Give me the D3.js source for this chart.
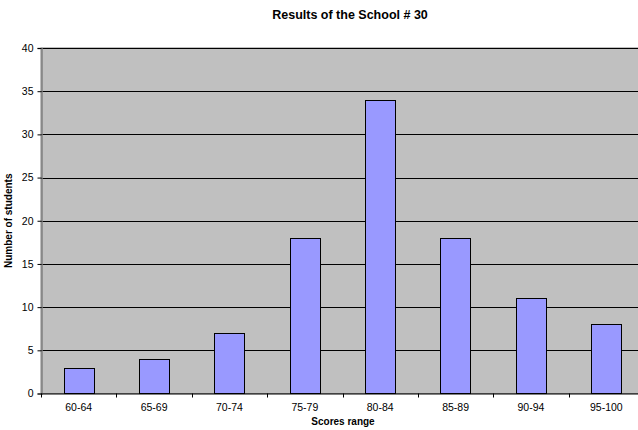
<!DOCTYPE html>
<html>
<head>
<meta charset="utf-8">
<script src="https://cdn.jsdelivr.net/npm/d3@7"></script>
<style>
  body { margin: 0; background: #fff; }
  text { font-family: Arial, "Liberation Sans", sans-serif; }
</style>
</head>
<body>
<div id="chart"></div>
<script>
const categories = ["60-64", "65-69", "70-74", "75-79", "80-84", "85-89", "90-94", "95-100"];
const students = [3, 4, 7, 18, 34, 18, 11, 8];
const yTicks = [0, 5, 10, 15, 20, 25, 30, 35, 40];

const width = 638, height = 430;
// plot area runs a little past the right edge, like the original screenshot
const margin = {left: 41, top: 48, bottom: 393.5};
const plotRight = 644;

const svg = d3.select("#chart").append("svg")
  .attr("width", width)
  .attr("height", height);

const xscale = d3.scaleBand()
  .domain(categories)
  .range([margin.left, plotRight])
  .paddingInner(0.6)
  .paddingOuter(0.3);

const yscale = d3.scaleLinear()
  .domain([0, 40])
  .range([margin.bottom, margin.top]);

// plot background
svg.append("rect")
  .attr("x", margin.left)
  .attr("y", margin.top)
  .attr("width", plotRight - margin.left)
  .attr("height", margin.bottom - margin.top)
  .attr("fill", "#c0c0c0")
  .attr("stroke", "#808080");

// gridlines
svg.append("g")
  .selectAll("line")
  .data(yTicks.filter(d => d > 0))
  .join("line")
  .attr("x1", margin.left)
  .attr("x2", plotRight)
  .attr("y1", d => Math.round(yscale(d)) + 0.5)
  .attr("y2", d => Math.round(yscale(d)) + 0.5)
  .attr("stroke", "#000")
  .attr("stroke-width", 1);

// bars
svg.append("g")
  .selectAll("rect")
  .data(students)
  .join("rect")
  .attr("x", (d, i) => Math.round(xscale(categories[i])) + 0.5)
  .attr("y", d => Math.round(yscale(d)) + 0.5)
  .attr("width", Math.round(xscale.bandwidth()))
  .attr("height", d => yscale(0) - Math.round(yscale(d)) - 0.5)
  .attr("fill", "#9999ff")
  .attr("stroke", "#000")
  .attr("stroke-width", 1);

// y axis
const yAxis = svg.append("g")
  .attr("transform", `translate(${margin.left + 0.5},0)`)
  .call(d3.axisLeft(yscale).tickValues(yTicks).tickSize(4).tickPadding(4));
yAxis.select(".domain").attr("stroke", "#808080").attr("stroke-width", 1.5);
yAxis.selectAll(".tick line").attr("stroke", "#000");
yAxis.selectAll("text").attr("font-size", 10.5).attr("fill", "#000")
  .attr("font-family", "Arial, 'Liberation Sans', sans-serif");

// x axis: ticks sit between categories
const step = xscale.step();
const bounds = d3.range(categories.length + 1).map(i => margin.left + i * step);
const xg = svg.append("g");
xg.append("line")
  .attr("x1", margin.left).attr("x2", plotRight)
  .attr("y1", margin.bottom + 0.5).attr("y2", margin.bottom + 0.5)
  .attr("stroke", "#000");
xg.selectAll(".xt")
  .data(bounds)
  .join("line")
  .attr("class", "xt")
  .attr("x1", d => Math.round(d) + 0.5).attr("x2", d => Math.round(d) + 0.5)
  .attr("y1", margin.bottom).attr("y2", margin.bottom + 4)
  .attr("stroke", "#000");
xg.selectAll("text")
  .data(categories)
  .join("text")
  .attr("x", d => xscale(d) + xscale.bandwidth() / 2)
  .attr("y", 411)
  .attr("text-anchor", "middle")
  .attr("font-size", 10.5)
  .text(d => d);

// titles
svg.append("text")
  .attr("x", 350)
  .attr("y", 19)
  .attr("text-anchor", "middle")
  .attr("font-size", 12.5)
  .attr("font-weight", "bold")
  .text("Results of the School # 30");

svg.append("text")
  .attr("x", 343)
  .attr("y", 425)
  .attr("text-anchor", "middle")
  .attr("font-size", 10)
  .attr("font-weight", "bold")
  .text("Scores range");

svg.append("text")
  .attr("transform", `translate(12,${(margin.top + margin.bottom) / 2}) rotate(-90)`)
  .attr("text-anchor", "middle")
  .attr("font-size", 10)
  .attr("font-weight", "bold")
  .text("Number of students");
</script>
</body>
</html>
